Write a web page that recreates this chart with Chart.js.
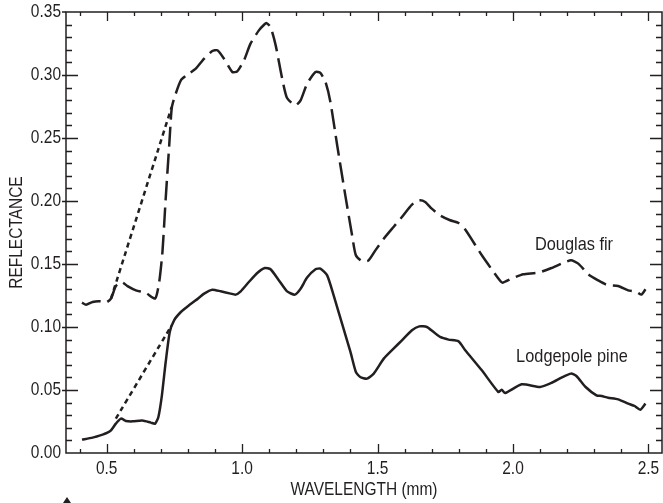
<!DOCTYPE html>
<html>
<head>
<meta charset="utf-8">
<script src="https://cdn.jsdelivr.net/npm/chart.js@4/dist/chart.umd.min.js"></script>
<style>
  html, body { margin: 0; padding: 0; background: #fff; }
  #wrap { width: 663px; height: 503px; }
</style>
</head>
<body>
<div id="wrap"><canvas id="chart" width="663" height="503"></canvas></div>
<script>
// --- DONNÉES ---
const firWavelength = [0.409, 0.424, 0.448, 0.473, 0.497, 0.516, 0.534, 0.555, 0.577, 0.608, 0.645, 0.679,
  0.694, 0.706, 0.718, 0.731, 0.740, 0.749, 0.774, 0.804, 0.829, 0.860, 0.890, 0.909, 0.933, 0.964, 0.982,
  1.007, 1.031, 1.062, 1.081, 1.090, 1.105, 1.124, 1.148, 1.166, 1.197, 1.216, 1.240, 1.271, 1.289, 1.308,
  1.326, 1.351, 1.381, 1.406, 1.420, 1.443, 1.467, 1.492, 1.523, 1.559, 1.590, 1.627, 1.654, 1.676, 1.700,
  1.731, 1.768, 1.799, 1.823, 1.885, 1.946, 1.961, 1.995, 2.038, 2.093, 2.142, 2.179, 2.214, 2.241, 2.278,
  2.314, 2.345, 2.388, 2.425, 2.456, 2.474, 2.489];
const firReflectance = [0.1193, 0.1177, 0.1198, 0.1204, 0.1193, 0.1225, 0.1325, 0.1357, 0.1325, 0.1291, 0.1270, 0.1225,
  0.1357, 0.1595, 0.2019, 0.2442, 0.2733, 0.2812, 0.2958, 0.3011, 0.3050, 0.3130, 0.3190, 0.3196, 0.3130, 0.3024, 0.3029,
  0.3116, 0.3249, 0.3354, 0.3399, 0.3412, 0.3381, 0.3235, 0.2971, 0.2817, 0.2759, 0.2799, 0.2931, 0.3024, 0.3016, 0.2944,
  0.2786, 0.2442, 0.2045, 0.1728, 0.1569, 0.1521, 0.1529, 0.1608, 0.1701, 0.1794, 0.1873, 0.1971, 0.2005, 0.1992, 0.1939,
  0.1886, 0.1847, 0.1825, 0.1775, 0.1569, 0.1384, 0.1352, 0.1384, 0.1418, 0.1431, 0.1468, 0.1503, 0.1529, 0.1503, 0.1418,
  0.1370, 0.1336, 0.1325, 0.1291, 0.1278, 0.1257, 0.1299];

const pineWavelength = [0.409, 0.448, 0.485, 0.503, 0.516, 0.534, 0.553, 0.571, 0.596, 0.632, 0.663, 0.679,
  0.691, 0.704, 0.718, 0.733, 0.749, 0.774, 0.804, 0.829, 0.860, 0.890, 0.921, 0.958, 0.976, 0.995, 1.025,
  1.056, 1.084, 1.105, 1.136, 1.166, 1.195, 1.216, 1.240, 1.271, 1.289, 1.314, 1.338, 1.369, 1.400, 1.420,
  1.436, 1.461, 1.486, 1.523, 1.559, 1.590, 1.627, 1.654, 1.682, 1.707, 1.731, 1.762, 1.799, 1.823, 1.885,
  1.946, 1.958, 1.971, 2.032, 2.100, 2.142, 2.179, 2.214, 2.234, 2.268, 2.308, 2.327, 2.351, 2.388, 2.425,
  2.449, 2.470, 2.489];
const pineReflectance = [0.0106, 0.0122, 0.0146, 0.0161, 0.0180, 0.0233, 0.0273, 0.0254, 0.0251, 0.0257, 0.0241, 0.0233,
  0.0286, 0.0458, 0.0722, 0.0960, 0.1053, 0.1119, 0.1172, 0.1212, 0.1265, 0.1296, 0.1283, 0.1265, 0.1257, 0.1283, 0.1357,
  0.1429, 0.1468, 0.1458, 0.1370, 0.1283, 0.1257, 0.1304, 0.1392, 0.1458, 0.1463, 0.1410, 0.1251, 0.1026, 0.0802, 0.0643,
  0.0603, 0.0590, 0.0630, 0.0749, 0.0828, 0.0894, 0.0974, 0.1005, 0.1000, 0.0960, 0.0921, 0.0900, 0.0886, 0.0818, 0.0656,
  0.0484, 0.0503, 0.0476, 0.0545, 0.0524, 0.0556, 0.0598, 0.0630, 0.0611, 0.0524, 0.0458, 0.0452, 0.0439, 0.0426, 0.0392,
  0.0373, 0.0344, 0.0392];

// Segments pointillés (raccords)
const firGapWavelength = [0.516, 0.740];
const firGapReflectance = [0.1225, 0.2746];
const pineGapWavelength = [0.534, 0.740];
const pineGapReflectance = [0.0273, 0.1013];

// Graduations
const xTickValues = [0.5, 1.0, 1.5, 2.0, 2.5];
const xTickLabels = ['0.5', '1.0', '1.5', '2.0', '2.5'];
const yTickValues = [0, 0.05, 0.10, 0.15, 0.20, 0.25, 0.30, 0.35];
const yTickLabels = ['0.00', '0.05', '0.10', '0.15', '0.20', '0.25', '0.30', '0.35'];

const INK = '#231f20';
const FONT = "'Liberation Sans', Arial, sans-serif";
const NARROW = 0.86; // compression horizontale (police condensée)

function toPoints(xs, ys) {
    return xs.map((x, i) => ({ x: x, y: ys[i] }));
}

// Texte condensé : on écrase horizontalement autour du point d'ancrage
function narrowText(ctx, text, x, y, align) {
    ctx.save();
    ctx.translate(x, y);
    ctx.scale(NARROW, 1);
    ctx.textAlign = align;
    ctx.fillText(text, 0, 0);
    ctx.restore();
}

// Axes, graduations intérieures et textes
const framePlugin = {
    id: 'frame',
    afterDraw(chart) {
        const ctx = chart.ctx;
        const xs = chart.scales.x, ys = chart.scales.y;
        const a = chart.chartArea;
        ctx.save();
        ctx.strokeStyle = INK;
        ctx.lineWidth = 1.5;
        ctx.strokeRect(a.left, a.top, a.right - a.left, a.bottom - a.top);

        ctx.lineWidth = 1.3;
        ctx.beginPath();
        // graduations x tous les 0.1
        for (let k = 4; k <= 25; k++) {
            const v = k / 10;
            const px = Math.round(xs.getPixelForValue(v)) + 0.5;
            const major = (k % 5 === 0);
            const len = major ? 9 : 4;
            ctx.moveTo(px, a.bottom); ctx.lineTo(px, a.bottom - len);
            ctx.moveTo(px, a.top); ctx.lineTo(px, a.top + len);
        }
        // graduations y tous les 0.01
        for (let k = 1; k < 35; k++) {
            const v = k / 100;
            const py = Math.round(ys.getPixelForValue(v)) + 0.5;
            const major = (k % 5 === 0);
            const len = major ? 12 : 6;
            ctx.moveTo(a.left - (major ? 4 : 0), py); ctx.lineTo(a.left + len, py);
            ctx.moveTo(a.right, py); ctx.lineTo(a.right - len, py);
        }
        ctx.moveTo(a.left - 4, a.top); ctx.lineTo(a.left, a.top);
        ctx.stroke();

        ctx.fillStyle = INK;
        ctx.font = '18px ' + FONT;
        ctx.textBaseline = 'middle';
        yTickValues.forEach((v, i) => {
            narrowText(ctx, yTickLabels[i], a.left - 5, ys.getPixelForValue(v), 'right');
        });
        xTickValues.forEach((v, i) => {
            narrowText(ctx, xTickLabels[i], xs.getPixelForValue(v), a.bottom + 16, 'center');
        });

        narrowText(ctx, 'WAVELENGTH (mm)', (a.left + a.right) / 2, 490, 'center');
        ctx.save();
        ctx.translate(17, (a.top + a.bottom) / 2);
        ctx.rotate(-Math.PI / 2);
        narrowText(ctx, 'REFLECTANCE', 0, 0, 'center');
        ctx.restore();

        ctx.font = '19px ' + FONT;
        narrowText(ctx, 'Douglas fir', 574, 245, 'center');
        narrowText(ctx, 'Lodgepole pine', 572, 357, 'center');

        // petit fragment en bas à gauche
        ctx.beginPath();
        ctx.moveTo(67, 497); ctx.lineTo(71, 503); ctx.lineTo(63, 503); ctx.closePath();
        ctx.fill();
        ctx.restore();
    }
};

const lineStyle = { borderColor: INK, borderWidth: 2.5, pointRadius: 0, fill: false, tension: 0.2 };

new Chart(document.getElementById('chart'), {
    type: 'line',
    data: {
        datasets: [
            Object.assign({ label: 'Douglas fir', data: toPoints(firWavelength, firReflectance), borderDash: [20, 7] }, lineStyle),
            Object.assign({ label: 'Lodgepole pine', data: toPoints(pineWavelength, pineReflectance) }, lineStyle),
            Object.assign({ label: 'fir gap', data: toPoints(firGapWavelength, firGapReflectance), borderDash: [5, 4] }, lineStyle),
            Object.assign({ label: 'pine gap', data: toPoints(pineGapWavelength, pineGapReflectance), borderDash: [5, 4] }, lineStyle)
        ]
    },
    options: {
        responsive: false,
        animation: false,
        layout: { padding: { left: 66, right: 1, top: 12, bottom: 50 } },
        plugins: { legend: { display: false }, tooltip: { enabled: false } },
        scales: {
            x: { type: 'linear', min: 0.35, max: 2.55, display: false },
            y: { type: 'linear', min: 0, max: 0.35, display: false }
        }
    },
    plugins: [framePlugin]
});
</script>
</body>
</html>
